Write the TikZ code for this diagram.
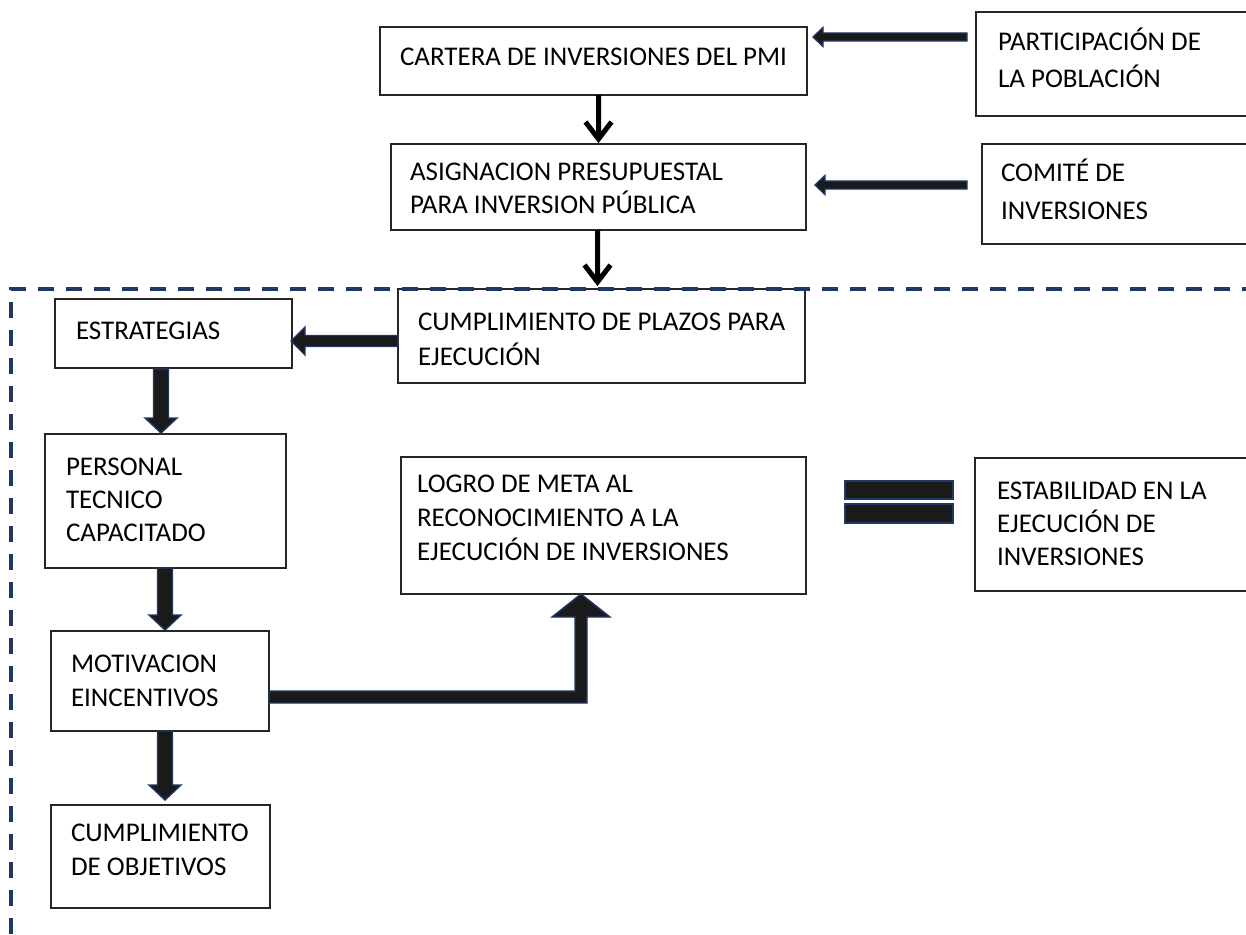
\documentclass[tikz,border=0pt]{standalone}
\usepackage{fontspec}
\setmainfont{Carlito}
\usetikzlibrary{calc}
\definecolor{navy}{HTML}{1F3864}
\definecolor{ink}{HTML}{1A1A1A}
\tikzset{
  box/.style={draw=black!85, line width=1.3pt, fill=white, inner sep=0pt, outer sep=0pt},
  txt/.style={anchor=north west, inner sep=0pt, outer sep=0pt, align=left, font=\fontsize{27}{34}\selectfont},
  blk/.style={fill=ink, draw=navy, line width=1.4pt, line join=miter},
  thinarrow/.style={draw=black, line width=5pt, line cap=butt, line join=miter},
  frame/.style={draw=navy, line width=4pt, dash pattern=on 16pt off 12pt}
}
% left-pointing block arrow: tail, tip, half shaft, half head, head length
\newcommand\arrL[5]{\draw[blk] let \p1=#1, \p2=#2 in
  (\x1,\y1+#3) -- (\x2+#5,\y1+#3) -- (\x2+#5,\y1+#4) -- (\x2,\y1) -- (\x2+#5,\y1-#4) -- (\x2+#5,\y1-#3) -- (\x1,\y1-#3) -- cycle;}
% down-pointing block arrow
\newcommand\arrD[5]{\draw[blk] let \p1=#1, \p2=#2 in
  (\x1-#3,\y1) -- (\x1-#3,\y2+#5) -- (\x1-#4,\y2+#5) -- (\x1,\y2) -- (\x1+#4,\y2+#5) -- (\x1+#3,\y2+#5) -- (\x1+#3,\y1) -- cycle;}
% thin open-headed down arrow
\newcommand\arrV[2]{\draw[thinarrow] let \p1=#1, \p2=#2 in
  (\x1,\y1) -- (\x1,\y2+5pt) (\x1-13pt,\y2+21pt) -- (\x1,\y2+4pt) -- (\x1+13pt,\y2+21pt);}
\begin{document}
\begin{tikzpicture}[x=1pt,y=-1pt]
\useasboundingbox (0,0) rectangle (1246,934);
\clip (0,0) rectangle (1246,934);

% boxes
\node[box, minimum width=427pt, minimum height=68pt]  (cart) at (593.5,61) {};
\node[box, minimum width=286pt, minimum height=104pt] (part) at (1119,64) {};
\node[box, minimum width=415pt, minimum height=86pt]  (asig) at (598.5,187) {};
\node[box, minimum width=280pt, minimum height=100pt] (comi) at (1122,194) {};
\node[box, minimum width=407pt, minimum height=94pt]  (plaz) at (601.5,336) {};
\node[box, minimum width=237pt, minimum height=69pt]  (estr) at (173.5,333.5) {};
\node[box, minimum width=241pt, minimum height=134pt] (pers) at (165.5,501) {};
\node[box, minimum width=218pt, minimum height=100pt] (moti) at (160,681) {};
\node[box, minimum width=219pt, minimum height=103pt] (obj)  at (160.5,856.5) {};
\node[box, minimum width=405pt, minimum height=137pt] (logr) at (603.5,525.5) {};
\node[box, minimum width=287pt, minimum height=133pt] (esta) at (1118.5,524.5) {};

% texts
\node[txt] (cart-t) at (400,39) {\rule{0pt}{27pt}CARTERA DE INVERSIONES DEL PMI};
\node[txt, font=\fontsize{27}{36}\selectfont] (part-t) at (998,24) {\rule{0pt}{27pt}PARTICIPACIÓN DE\\LA POBLACIÓN};
\node[txt, font=\fontsize{27}{33}\selectfont] (asig-t) at (410,153) {\rule{0pt}{27pt}ASIGNACION PRESUPUESTAL\\PARA INVERSION PÚBLICA};
\node[txt, font=\fontsize{27}{38}\selectfont] (comi-t) at (1001,154) {\rule{0pt}{27pt}COMITÉ DE\\INVERSIONES};
\node[txt, font=\fontsize{27}{35}\selectfont] (plaz-t) at (418,303) {\rule{0pt}{27pt}CUMPLIMIENTO DE PLAZOS PARA\\EJECUCIÓN};
\node[txt] (estr-t) at (76,312) {\rule{0pt}{27pt}ESTRATEGIAS};
\node[txt, font=\fontsize{27}{33}\selectfont] (pers-t) at (66,448) {\rule{0pt}{27pt}PERSONAL\\TECNICO\\CAPACITADO};
\node[txt, font=\fontsize{27}{34}\selectfont] (logr-t) at (417,465) {\rule{0pt}{27pt}LOGRO DE META AL\\RECONOCIMIENTO A LA\\EJECUCIÓN DE INVERSIONES};
\node[txt, font=\fontsize{27}{33}\selectfont] (esta-t) at (997,472) {\rule{0pt}{27pt}ESTABILIDAD EN LA\\EJECUCIÓN DE\\INVERSIONES};
\node[txt] (moti-t) at (71,645) {\rule{0pt}{27pt}MOTIVACION\\EINCENTIVOS};
\node[txt] (obj-t) at (71,814) {\rule{0pt}{27pt}CUMPLIMIENTO\\DE OBJETIVOS};

% block arrows
\arrL{($(part.north west)+(-9,25)$)}{($(cart.north east)+(6,10)$)}{4pt}{9.5pt}{10pt}
\arrL{($(comi.north west)+(-15,41)$)}{($(asig.north east)+(9,41)$)}{4pt}{9.5pt}{10pt}
\arrL{($(plaz.west)+(0,5)$)}{($(estr.east)+(-1,7.5)$)}{5.5pt}{14pt}{14pt}
\arrD{($(estr.south west)+(106,1)$)}{($(pers.north west)+(116,-1)$)}{7.5pt}{16pt}{15pt}
\arrD{($(pers.south west)+(120,0)$)}{($(moti.north west)+(114,-1)$)}{7.5pt}{16pt}{15pt}
\arrD{($(moti.south west)+(114,0)$)}{($(obj.north west)+(114,-5)$)}{7.5pt}{16pt}{15pt}
% elbow arrow from MOTIVACION to LOGRO
\draw[blk] let \p1=($(moti.east)+(0,16)$), \p2=($(logr.south west)+(180,0)$) in
  (\x1,\y1+6pt) -- (\x2-6pt,\y1+6pt) -- (\x2-6pt,\y2-23pt) -- (\x2-29pt,\y2-23pt) -- (\x2,\y2)
  -- (\x2+29pt,\y2-23pt) -- (\x2+6pt,\y2-23pt) -- (\x2+6pt,\y1-6pt) -- (\x1,\y1-6pt) -- cycle;
% equals sign between LOGRO and ESTABILIDAD
\draw[blk] ($(logr.north east)+(39,24)$) rectangle ($(logr.north east)+(147,42)$);
\draw[blk] ($(logr.north east)+(39,47)$) rectangle ($(logr.north east)+(147,66)$);

% dashed frame
\draw[frame] (11,934) -- (11,289) -- (1262,289);

% thin arrows
\arrV{($(cart.south)+(5,0)$)}{($(asig.north)+(0,-1)$)}
\arrV{($(asig.south)+(-1,0)$)}{($(plaz.north)+(0,-3)$)}
\end{tikzpicture}
\end{document}
